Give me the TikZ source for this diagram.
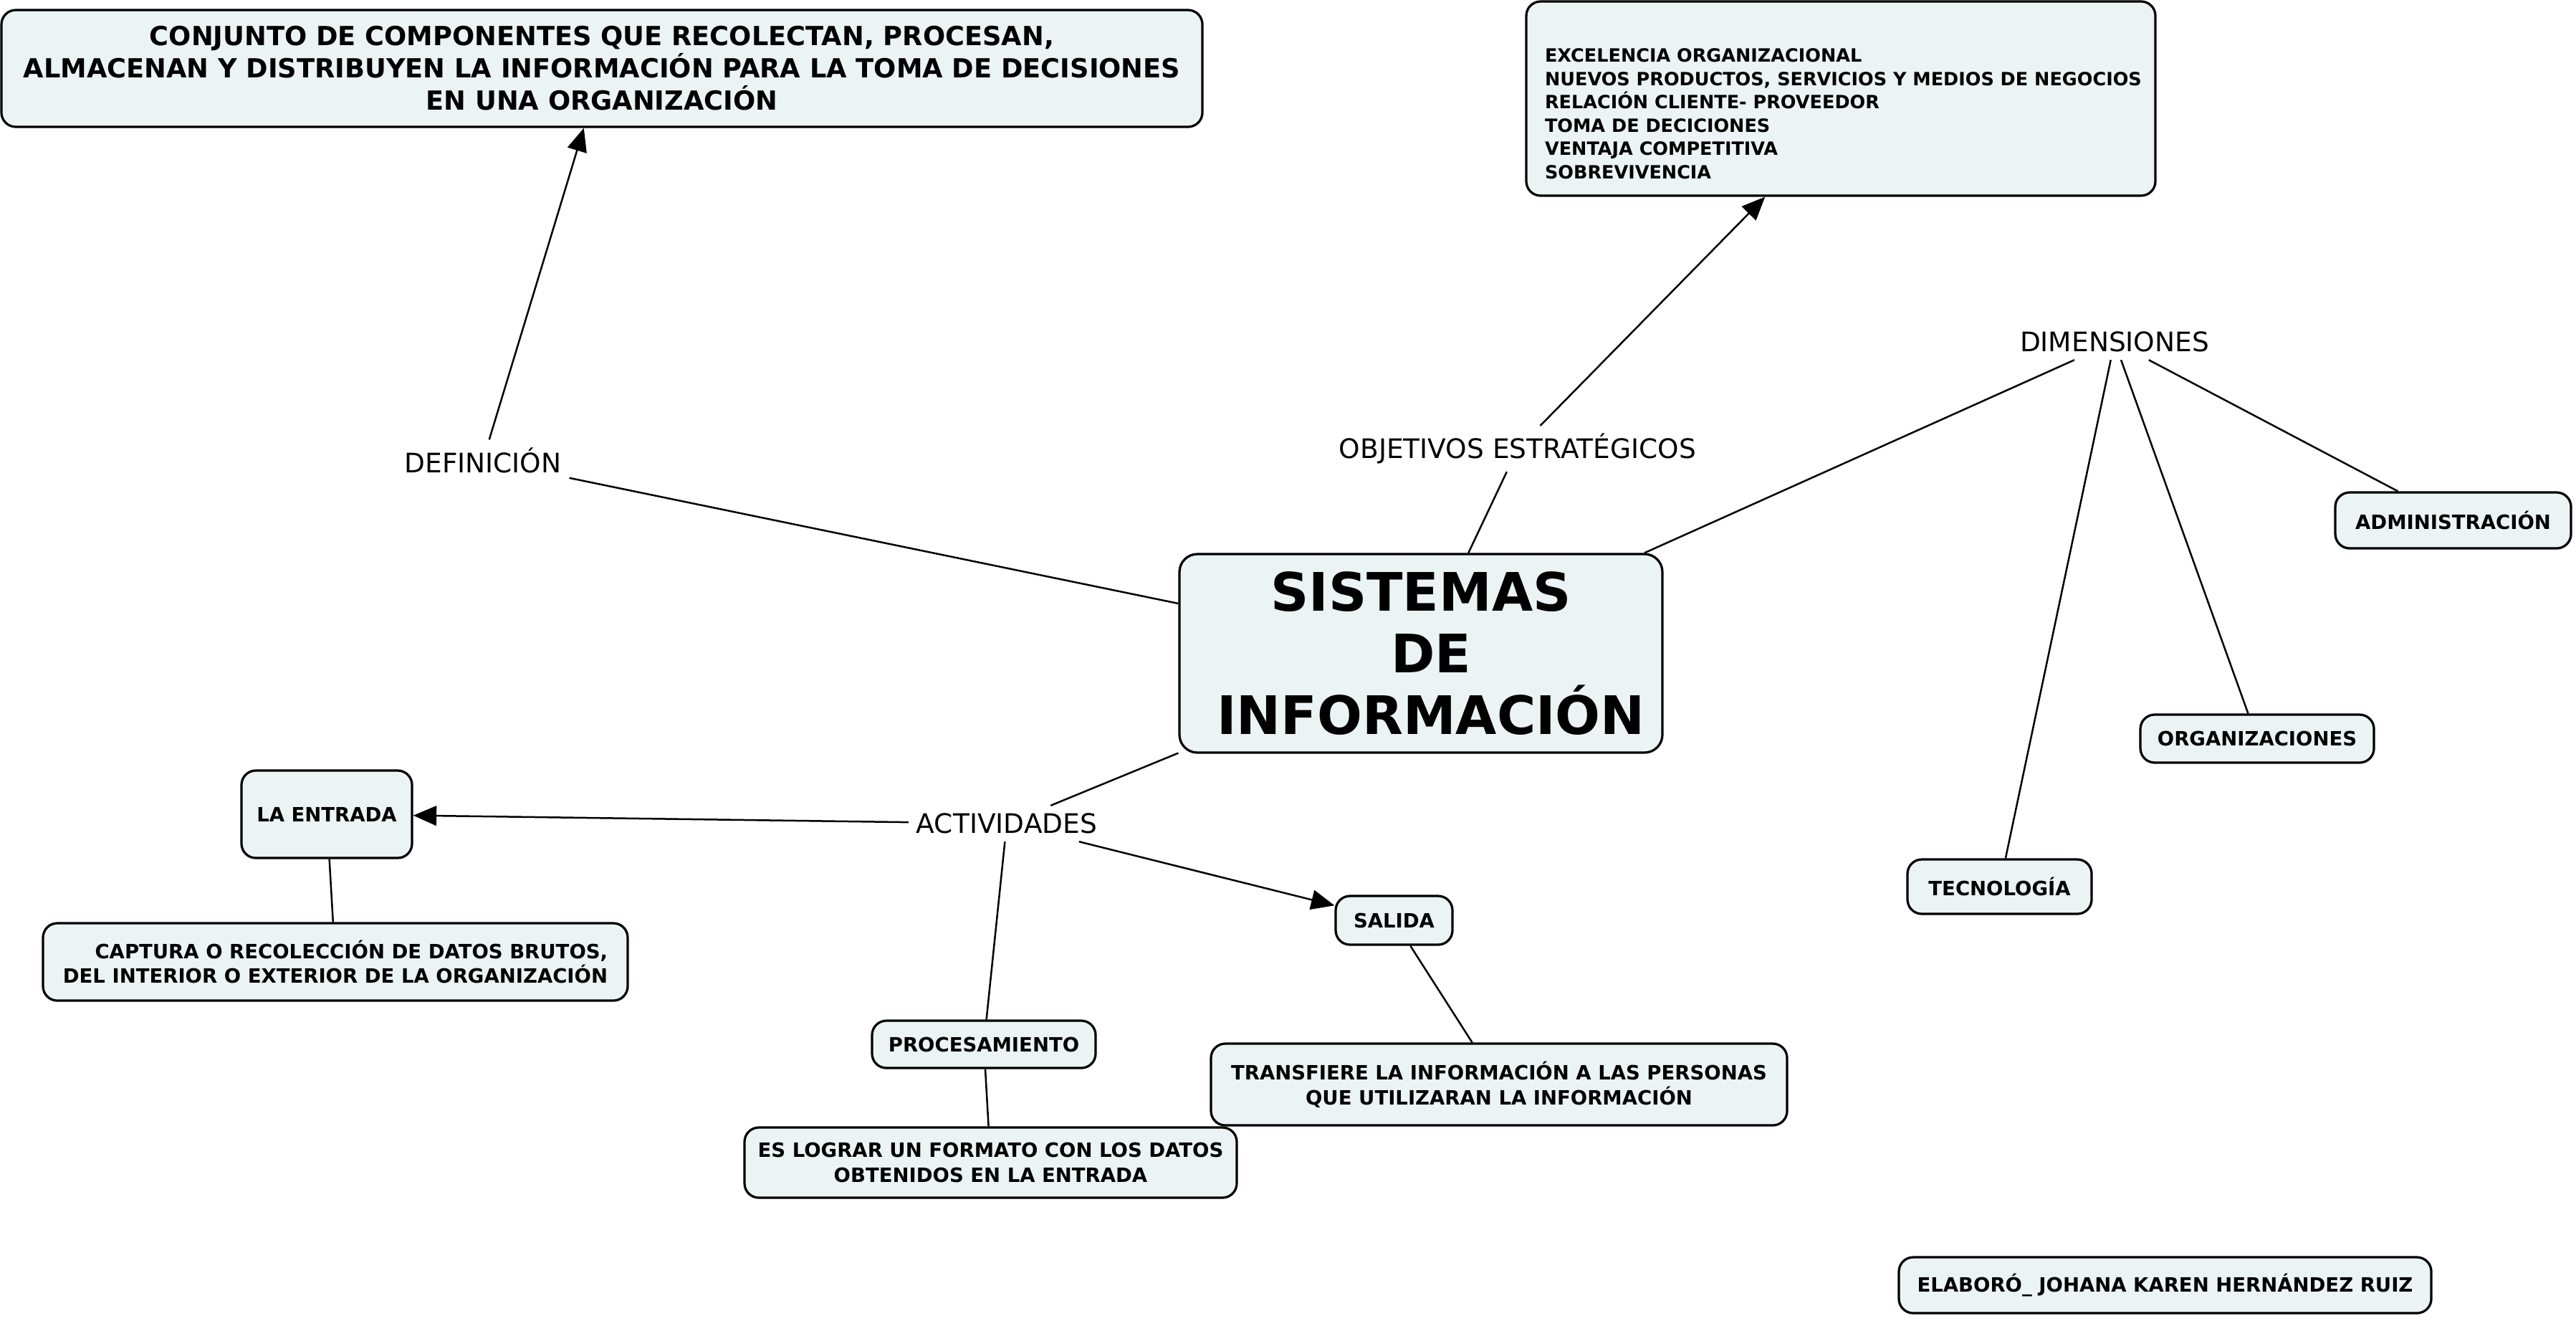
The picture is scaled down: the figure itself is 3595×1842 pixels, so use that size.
\documentclass[tikz,border=0pt]{standalone}
\usepackage{fontspec}
\setmainfont{DejaVu Sans}
\usetikzlibrary{arrows.meta,calc}
\definecolor{boxfill}{RGB}{235,243,245}
\begin{document}
\begin{tikzpicture}[x=0.2pt,y=-0.2pt,
  box/.style={draw=black,line width=0.65pt,fill=boxfill,rounded corners=4pt,inner sep=0pt,
    font=\bfseries\fontsize{5.5}{6.9}\selectfont,align=center},
  lbl/.style={inner sep=2pt,font=\fontsize{7.5}{9}\selectfont},
  conn/.style={line width=0.5pt},
  arr/.style={line width=0.5pt,-{Triangle[length=6.5pt,width=5.5pt]}}]
\useasboundingbox[fill=white] (0,0) rectangle (3595,1842);

% top boxes
\node[box,minimum width=335.2pt,minimum height=32.6pt,font=\bfseries\fontsize{7.35}{9}\selectfont] (def) at (840,95.5)
  {CONJUNTO DE COMPONENTES QUE RECOLECTAN, PROCESAN,\\ALMACENAN Y DISTRIBUYEN LA INFORMACIÓN PARA LA TOMA DE DECISIONES\\EN UNA ORGANIZACIÓN};
\node[box,minimum width=175.6pt,minimum height=54.2pt] (obj) at (2569,137.5) {};
\node[anchor=north west,inner sep=0pt,align=left,font=\bfseries\fontsize{5.1}{6.5}\selectfont] (objtxt) at (2155,67)
  {EXCELENCIA ORGANIZACIONAL\\NUEVOS PRODUCTOS, SERVICIOS Y MEDIOS DE NEGOCIOS\\RELACIÓN CLIENTE- PROVEEDOR\\TOMA DE DECICIONES\\VENTAJA COMPETITIVA\\SOBREVIVENCIA};

% central
\node[box,rounded corners=5pt,minimum width=134.8pt,minimum height=55.4pt,font=\bfseries\fontsize{14.8}{17.2}\selectfont] (si) at (1983,911.5)
  {SISTEMAS\\\hspace*{5.6pt}DE\\\hspace*{5.6pt}INFORMACIÓN};

% labels
\node[lbl] (ldef) at (674,642) {DEFINICIÓN};
\node[lbl] (lobj) at (2118,626) {OBJETIVOS ESTRATÉGICOS};
\node[lbl] (ldim) at (2951,477) {DIMENSIONES};
\node[lbl] (lact) at (1405,1149) {ACTIVIDADES};

% dimension boxes
\node[box,minimum width=65.8pt,minimum height=15.6pt] (adm) at (3423.5,726) {ADMINISTRACIÓN};
\node[box,minimum width=65.2pt,minimum height=13.4pt] (org) at (3150,1030.5) {ORGANIZACIONES};
\node[box,minimum width=51.4pt,minimum height=15.2pt] (tec) at (2790.5,1237) {TECNOLOGÍA};

% activities
\node[box,minimum width=47.6pt,minimum height=24.4pt] (ent) at (456,1136) {LA ENTRADA};
\node[box,minimum width=163.2pt,minimum height=21.6pt,align=right] (cap) at (468,1342)
  {CAPTURA O RECOLECCIÓN DE DATOS BRUTOS,\\DEL INTERIOR O EXTERIOR DE LA ORGANIZACIÓN};
\node[box,minimum width=32.6pt,minimum height=13.6pt] (sal) at (1945.5,1284) {SALIDA};
\node[box,minimum width=62.4pt,minimum height=13.2pt] (proc) at (1373,1457) {PROCESAMIENTO};
\node[box,minimum width=137.4pt,minimum height=19.6pt] (log) at (1382.5,1622)
  {ES LOGRAR UN FORMATO CON LOS DATOS\\OBTENIDOS EN LA ENTRADA};
\node[box,minimum width=160.8pt,minimum height=22.8pt] (tra) at (2092,1513)
  {TRANSFIERE LA INFORMACIÓN A LAS PERSONAS\\QUE UTILIZARAN LA INFORMACIÓN};

% author
\node[box,minimum width=148.6pt,minimum height=15.6pt] (ela) at (3021.5,1793) {ELABORÓ\_ JOHANA KAREN HERNÁNDEZ RUIZ};

% connectors
\draw[conn] (si) -- (ldef);
\draw[arr] (ldef) -- (def);
\draw[conn] (si) -- (lobj);
\draw[arr] (lobj) -- ($(obj.south west)!0.38!(obj.south east)$);
\draw[conn] (si) -- (ldim);
\draw[conn] (ldim) -- (adm);
\draw[conn] (ldim) -- (org);
\draw[conn] (ldim) -- (tec);
\draw[conn] (si) -- (lact);
\draw[arr] (lact) -- (ent);
\draw[arr] (lact) -- (sal);
\draw[conn] (lact) -- (proc);
\draw[conn] (ent) -- (cap);
\draw[conn] (proc) -- (log);
\draw[conn] (sal) -- (tra);
\end{tikzpicture}
\end{document}
